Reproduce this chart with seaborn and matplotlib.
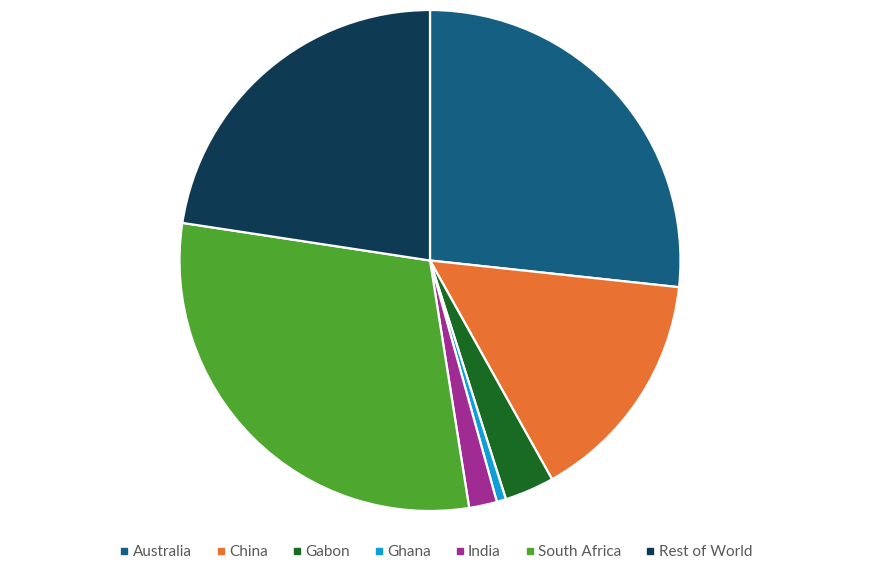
import matplotlib
matplotlib.use("Agg")
import matplotlib.pyplot as plt
import seaborn as sns
from matplotlib.lines import Line2D

categories = ["Australia", "China", "Gabon", "Ghana", "India", "South Africa", "Rest of World"]
values = [26.7, 15.2, 3.2, 0.6, 1.8, 29.9, 22.6]
colors = ["#156082", "#E97132", "#196B24", "#0F9ED5", "#A02B93", "#4EA72E", "#0E3A53"]

sns.set_theme(style="white")
plt.rcParams['font.family'] = ['Lato', 'DejaVu Sans']
palette = sns.color_palette(colors)

fig = plt.figure(figsize=(8.83, 5.72), dpi=100)
ax = fig.add_axes([179.5 / 883, 61 / 572, 501 / 883, 501 / 572])
ax.pie(values, colors=palette, startangle=90, counterclock=False,
       wedgeprops=dict(edgecolor="white", linewidth=1.6))
ax.set_xlim(-1, 1)
ax.set_ylim(-1, 1)
ax.set_aspect("equal")
ax.axis("off")

handles = [Line2D([0], [0], marker="s", linestyle="none", markersize=5,
                  markerfacecolor=c, markeredgecolor=c) for c in palette]
fig.legend(handles, categories, loc="center", bbox_to_anchor=(0.492, 1 - 552 / 572),
           ncol=7, frameon=False, fontsize=11, handletextpad=0.05, columnspacing=1.39,
           labelcolor="#595959", handlelength=1.0)

fig.savefig("out.png", dpi=100)
